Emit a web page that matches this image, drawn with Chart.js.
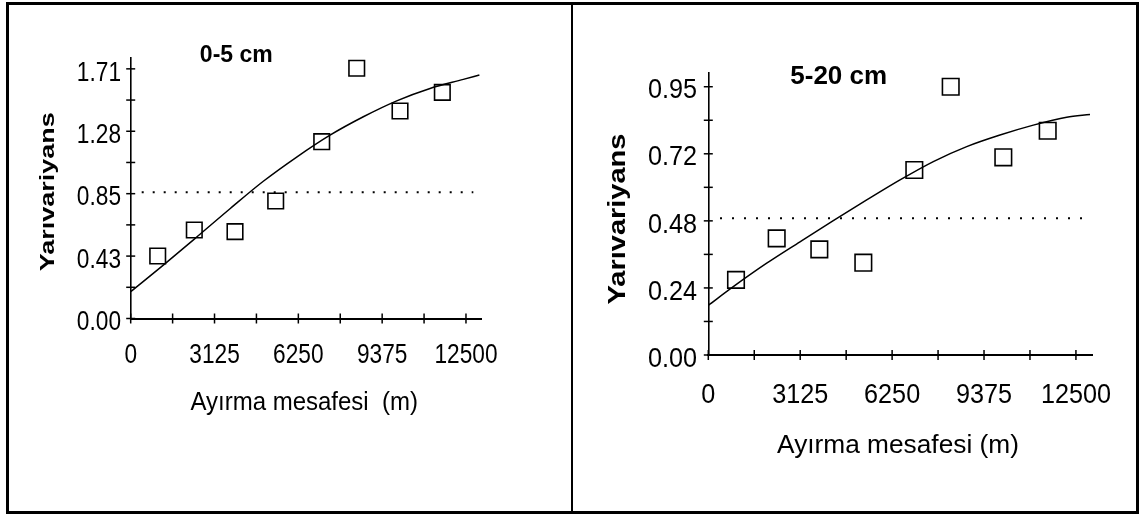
<!DOCTYPE html>
<html><head><meta charset="utf-8">
<script src="https://cdn.jsdelivr.net/npm/chart.js@4/dist/chart.umd.min.js"></script>
<style>
html,body{margin:0;padding:0;background:#fff;}
#wrap{position:relative;width:1146px;height:515px;overflow:hidden;background:#fff;}
#box{position:absolute;left:6px;top:2px;width:1127px;height:506px;border:3px solid #000;pointer-events:none;}
#divider{position:absolute;left:571px;top:2px;width:2px;height:512px;background:#000;pointer-events:none;}
canvas{position:absolute;top:0;}
</style>
</head><body>
<div id="wrap">
<canvas id="cL" width="573" height="515" style="left:0px"></canvas>
<canvas id="cR" width="573" height="515" style="left:573px"></canvas>
<div id="box"></div><div id="divider"></div>
</div>
<script>
// ---------- data ----------
const xTickValues = [0, 3125, 6250, 9375, 12500];
const xTickLabels = ['0', '3125', '6250', '9375', '12500'];

// 0-5 cm
const ptsX_L = [1007, 2371, 3889, 5406, 7122, 8427, 10041, 11618];
const ptsY_L = [0.428, 0.606, 0.595, 0.805, 1.211, 1.714, 1.421, 1.549];
const curveX_L = [0, 1216, 2461, 3702, 4944, 6189, 7431, 8673, 9918, 11160, 12401, 13000];
const curveY_L = [0.184, 0.366, 0.558, 0.752, 0.940, 1.106, 1.256, 1.382, 1.491, 1.576, 1.638, 1.668];
const sill_L = 0.864;
const sillX_L = [410, 12774];
const yTickValues_L = [0, 0.4275, 0.855, 1.2825, 1.71];
const yTickLabels_L = ['0.00', '0.43', '0.85', '1.28', '1.71'];

// 5-20 cm
const ptsX_R = [942, 2325, 3775, 5271, 7005, 8242, 10031, 11540];
const ptsY_R = [0.266, 0.413, 0.374, 0.327, 0.655, 0.950, 0.700, 0.794];
const curveX_R = [0, 850, 1986, 3118, 4250, 5386, 6518, 7651, 8786, 9918, 11051, 12186, 12978];
const curveY_R = [0.176, 0.242, 0.325, 0.401, 0.476, 0.549, 0.620, 0.685, 0.738, 0.779, 0.814, 0.842, 0.852];
const sill_R = 0.484;
const sillX_R = [398, 12810];
const yTickValues_R = [0, 0.2375, 0.475, 0.7125, 0.95];
const yTickLabels_R = ['0.00', '0.24', '0.48', '0.72', '0.95'];

const FONT = '"Liberation Sans", Arial, sans-serif';

function zip(xs, ys) { return xs.map((x, i) => ({x: x, y: ys[i]})); }

function drawText(ctx, str, x, y, font, sx, align, rot) {
  ctx.save();
  ctx.translate(x, y);
  ctx.scale(sx, 1);
  if (rot) ctx.rotate(rot);
  ctx.font = font;
  ctx.textAlign = align;
  ctx.textBaseline = 'alphabetic';
  ctx.fillStyle = '#000';
  ctx.fillText(str, 0, 0);
  ctx.restore();
}

function makeChart(id, cfg) {
  const decor = {
    id: 'decor',
    afterDraw(chart) {
      const ctx = chart.ctx;
      const xs = chart.scales.x, ys = chart.scales.y;
      const x0 = xs.getPixelForValue(0), y0 = ys.getPixelForValue(0);
      ctx.save();
      ctx.strokeStyle = '#000';
      ctx.lineWidth = 1.5;
      for (let i = 0; i < cfg.yTickValues.length; i++) {
        const vals = [cfg.yTickValues[i]];
        if (i < cfg.yTickValues.length - 1) vals.push((cfg.yTickValues[i] + cfg.yTickValues[i + 1]) / 2);
        vals.forEach(v => {
          const py = ys.getPixelForValue(v);
          ctx.beginPath(); ctx.moveTo(x0 - 4.5, py); ctx.lineTo(x0 + 4.5, py); ctx.stroke();
        });
      }
      for (let i = 0; i < xTickValues.length; i++) {
        const vals = [xTickValues[i]];
        if (i < xTickValues.length - 1) vals.push((xTickValues[i] + xTickValues[i + 1]) / 2);
        vals.forEach(v => {
          const px = xs.getPixelForValue(v);
          ctx.beginPath(); ctx.moveTo(px, y0 - 5); ctx.lineTo(px, y0 + 5); ctx.stroke();
        });
      }
      ctx.restore();
      const tf = cfg.tickSize + 'px ' + FONT;
      cfg.yTickValues.forEach((v, i) => {
        const py = ys.getPixelForValue(v);
        drawText(ctx, cfg.yTickLabels[i], x0 - cfg.yLabelGap, py + cfg.yLabelDy, tf, cfg.tickSX, 'right');
      });
      xTickValues.forEach((v, i) => {
        const px = xs.getPixelForValue(v);
        drawText(ctx, xTickLabels[i], px, y0 + cfg.xLabelDy, tf, cfg.tickSX, 'center');
      });
      drawText(ctx, cfg.title, cfg.titleX, cfg.titleY, 'bold ' + cfg.titleSize + 'px ' + FONT, 1, 'center');
      drawText(ctx, cfg.xTitle, cfg.xTitleX, cfg.xTitleY, cfg.xTitleSize + 'px ' + FONT, cfg.xTitleSX, 'center');
      const em = cfg.yTitleSize;
      drawText(ctx, cfg.yTitle, cfg.yTitleX + 0.253 * em * cfg.yTitleSX, cfg.yTitleY,
        'bold ' + em + 'px ' + FONT, cfg.yTitleSX, 'center', -Math.PI / 2);
    }
  };

  return new Chart(document.getElementById(id), {
    type: 'scatter',
    data: {
      datasets: [
        {
          label: 'data',
          data: zip(cfg.ptsX, cfg.ptsY),
          showLine: false,
          pointStyle: 'rect',
          pointRadius: cfg.pointR,
          pointHoverRadius: cfg.pointR,
          pointBorderWidth: 1.6,
          pointBackgroundColor: 'rgba(0,0,0,0)',
          pointBorderColor: '#000',
          order: 0
        },
        {
          label: 'model',
          type: 'line',
          data: zip(cfg.curveX, cfg.curveY),
          borderColor: '#000',
          borderWidth: 1.5,
          pointRadius: 0,
          fill: false,
          cubicInterpolationMode: 'monotone',
          order: 1
        },
        {
          label: 'sill',
          type: 'line',
          data: [{x: cfg.sillX[0], y: cfg.sill}, {x: cfg.sillX[1], y: cfg.sill}],
          borderColor: '#000',
          borderWidth: 2,
          borderDash: cfg.dash,
          pointRadius: 0,
          fill: false,
          order: 2
        }
      ]
    },
    options: {
      responsive: false,
      animation: false,
      events: [],
      layout: {padding: cfg.padding},
      plugins: {legend: {display: false}, tooltip: {enabled: false}, title: {display: false}},
      scales: {
        x: {
          type: 'linear', min: 0, max: 13060,
          ticks: {display: false},
          grid: {display: false, drawTicks: false},
          border: {display: true, color: '#000', width: 2},
          afterFit: s => { s.height = 0; }
        },
        y: {
          type: 'linear', min: 0, max: cfg.yMax,
          ticks: {display: false},
          grid: {display: false, drawTicks: false},
          border: {display: true, color: '#000', width: 1.6},
          afterFit: s => { s.width = 0; }
        }
      }
    },
    plugins: [decor]
  });
}

makeChart('cL', {
  ptsX: ptsX_L, ptsY: ptsY_L, curveX: curveX_L, curveY: curveY_L,
  sill: sill_L, sillX: sillX_L, dash: [2, 9],
  yTickValues: yTickValues_L, yTickLabels: yTickLabels_L, yMax: 1.785,
  padding: {left: 130.7, right: 92, top: 57.9, bottom: 196.5},
  pointR: 11,
  tickSize: 27, tickSX: 0.84, yLabelGap: 9.7, yLabelDy: 11.7, xLabelDy: 44.8,
  title: '0-5 cm', titleX: 236.3, titleY: 62.3, titleSize: 23,
  xTitle: 'Ayırma mesafesi  (m)', xTitleX: 304.2, xTitleY: 409.5, xTitleSize: 25, xTitleSX: 0.96,
  yTitle: 'Yarıvariyans', yTitleX: 49.3, yTitleY: 191.7, yTitleSize: 27, yTitleSX: 0.74
});

makeChart('cR', {
  ptsX: ptsX_R, ptsY: ptsY_R, curveX: curveX_R, curveY: curveY_R,
  sill: sill_R, sillX: sillX_R, dash: [2, 10],
  yTickValues: yTickValues_R, yTickLabels: yTickLabels_R, yMax: 1.0,
  padding: {left: 135.3, right: 53.6, top: 72.6, bottom: 160},
  pointR: 11.7,
  tickSize: 28, tickSX: 0.9, yLabelGap: 11.3, yLabelDy: 11.7, xLabelDy: 48,
  title: '5-20 cm', titleX: 265.7, titleY: 84.3, titleSize: 26,
  xTitle: 'Ayırma mesafesi (m)', xTitleX: 325, xTitleY: 452.7, xTitleSize: 25.5, xTitleSX: 1.03,
  yTitle: 'Yarıvariyans', yTitleX: 45.6, yTitleY: 219, yTitleSize: 29, yTitleSX: 0.81
});
</script>
</body></html>
